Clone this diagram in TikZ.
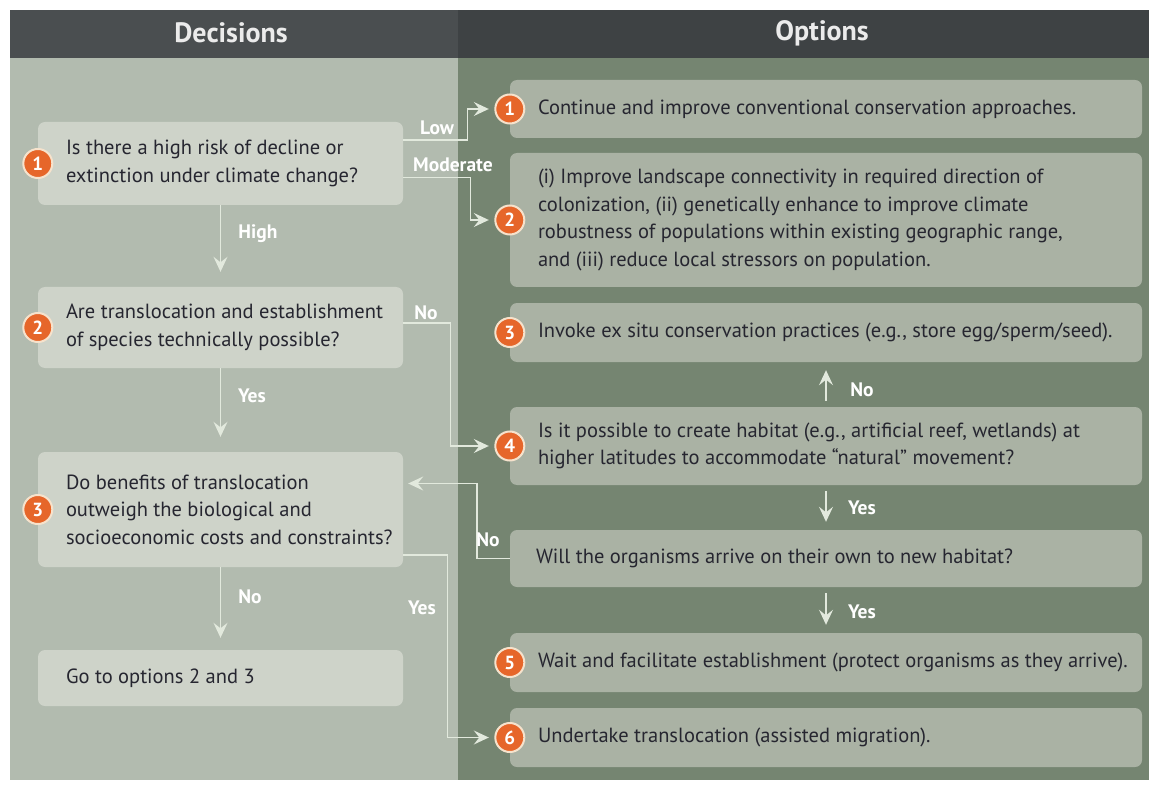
\documentclass[tikz,border=0pt]{standalone}
\usepackage{fontspec}
\setmainfont{PT Sans}
\usetikzlibrary{arrows.meta}

\definecolor{leftpanel}{RGB}{178,187,175}
\definecolor{rightpanel}{RGB}{117,133,113}
\definecolor{headleft}{RGB}{74,78,80}
\definecolor{headright}{RGB}{62,66,68}
\definecolor{decfill}{RGB}{206,211,201}
\definecolor{optfill}{RGB}{170,178,164}
\definecolor{linecol}{RGB}{226,233,221}
\definecolor{badgecol}{RGB}{230,102,42}
\definecolor{ringcol}{RGB}{246,226,204}
\definecolor{txtcol}{RGB}{38,38,48}

\tikzset{dec node/.style={rounded corners=7pt,fill=decfill,minimum width=365pt,minimum height=#1,inner sep=0pt},
	opt node/.style={rounded corners=7pt,fill=optfill,minimum width=632pt,minimum height=#1,inner sep=0pt},
}

\begin{document}
\begin{tikzpicture}[x=1pt,y=-1pt,
		txt node/.style={anchor=west,align=left,text=txtcol,inner sep=0pt,font=\fontsize{20.5}{27.5}\selectfont},
		badge/.style={circle,fill=badgecol,draw=ringcol,line width=2pt,minimum size=29pt,inner sep=0pt,text=white,font=\fontsize{19}{19}\selectfont\bfseries},
		lbl/.style={text=white,inner sep=0pt,font=\fontsize{19.5}{19.5}\selectfont\bfseries},
		head/.style={text=white!92!black,inner sep=0pt,font=\fontsize{28}{28}\selectfont\bfseries},
		tip/.style={draw=linecol,line width=1.4pt,-{Stealth[length=15pt,width=14pt,inset=5.5pt]}},
		flow/.style={tip,shorten >=21pt},
		down/.style={tip,shorten >=15pt},
		short/.style={tip,shorten <=6pt,shorten >=8pt}]
	
	\useasboundingbox (0,0) rectangle (1155,791);
	\fill[white] (0,0) rectangle (1155,791);
	\fill[leftpanel] (10,58) rectangle (458,780);
	\fill[rightpanel] (458,58) rectangle (1149,780);
	\fill[headleft] (10,10) rectangle (458,58);
	\fill[headright] (458,10) rectangle (1149,58);
	\node[head] (hdec) at (231,33) {Decisions};
	\node[head] (hopt) at (822,33) {Options};
	
	\node[dec node=83pt] (d1) at (220.5,163.5) {};
	\node[dec node=81pt] (d2) at (220.5,327.5) {};
	\node[dec node=115pt] (d3) at (220.5,509.5) {};
	\node[dec node=56pt] (d4) at (220.5,678) {};
	
	\node[opt node=58pt] (o1) at (826,109) {};
	\node[opt node=134pt] (o2) at (826,220) {};
	\node[opt node=59pt] (o3) at (826,332.5) {};
	\node[opt node=78pt] (o4) at (826,446) {};
	\node[opt node=57pt] (ow) at (826,558.5) {};
	\node[opt node=59pt] (o5) at (826,662.5) {};
	\node[opt node=59pt] (o6) at (826,737.5) {};
	
	\node[txt node] (d1t) at ([xshift=28pt]d1.west) {Is there a high risk of decline or\\extinction under climate change?};
	\node[txt node] (d2t) at ([xshift=28pt]d2.west) {Are translocation and establishment\\of species technically possible?};
	\node[txt node] (d3t) at ([xshift=28pt]d3.west) {Do benefits of translocation\\outweigh the biological and\\socioeconomic costs and constraints?};
	\node[txt node] (d4t) at ([xshift=28pt]d4.west) {Go to options 2 and 3};
	\node[txt node] (o1t) at ([xshift=28pt]o1.west) {Continue and improve conventional conservation approaches.};
	\node[txt node] (o2t) at ([xshift=28pt]o2.west) {(i) Improve landscape connectivity in required direction of\\colonization, (ii) genetically enhance to improve climate\\robustness of populations within existing geographic range,\\and (iii) reduce local stressors on population.};
	\node[txt node] (o3t) at ([xshift=28pt]o3.west) {Invoke ex situ conservation practices (e.g., store egg/sperm/seed).};
	\node[txt node] (o4t) at ([xshift=28pt]o4.west) {Is it possible to create habitat (e.g., artificial reef, wetlands) at\\higher latitudes to accommodate ``natural'' movement?};
	\node[txt node] (owt) at ([xshift=26pt]ow.west) {Will the organisms arrive on their own to new habitat?};
	\node[txt node] (o5t) at ([xshift=28pt]o5.west) {Wait and facilitate establishment (protect organisms as they arrive).};
	\node[txt node] (o6t) at ([xshift=28pt]o6.west) {Undertake translocation (assisted migration).};
	
	\path (d1.south) edge[down] (d2.north)
		(d2.south) edge[down] (d3.north)
		(d3.south) edge[down,shorten >=12pt] (d4.north);
	\path (o4.north) edge[short] (o3.south)
		(o4.south) edge[short] (ow.north)
		(ow.south) edge[short] (o5.north);
	
	\draw[flow] ([yshift=23.5pt]d1.east) -- ++(64,0) |- (o1.west);
	\draw[flow] ([yshift=-14pt]d1.east) -- ++(67,0) |- (o2.west);
	\draw[flow] ([yshift=4.5pt]d2.east) -- ++(47,0) |- (o4.west);
	\draw[flow,shorten >=5pt] (ow.west) -- ++(-33,0) |- ([yshift=26pt]d3.east);
	\draw[flow] ([yshift=-45.5pt]d3.east) -- ++(44,0) |- (o6.west);
	
	\node[lbl] (llow) at (437,128) {Low};
	\node[lbl] (lmod) at (453,165) {Moderate};
	\node[lbl] (lhigh) at (258,234) {High};
	\node[lbl] (lyes2) at (252,396) {Yes};
	\node[lbl] (lno2) at (426,313) {No};
	\node[lbl] (lno3) at (250,597) {No};
	\node[lbl] (lyes3) at (422,608) {Yes};
	\node[lbl] (lnow) at (488,540) {No};
	\node[lbl] (lno4) at (862,390) {No};
	\node[lbl] (lyes4) at (862,508) {Yes};
	\node[lbl] (lyesw) at (862,612) {Yes};
	
	\node[badge] (bd1) at (d1.west) {1};
	\node[badge] (bd2) at (d2.west) {2};
	\node[badge] (bd3) at (d3.west) {3};
	\node[badge] (bo1) at (o1.west) {1};
	\node[badge] (bo2) at (o2.west) {2};
	\node[badge] (bo3) at (o3.west) {3};
	\node[badge] (bo4) at (o4.west) {4};
	\node[badge] (bo5) at (o5.west) {5};
	\node[badge] (bo6) at (o6.west) {6};
\end{tikzpicture}
\end{document}
